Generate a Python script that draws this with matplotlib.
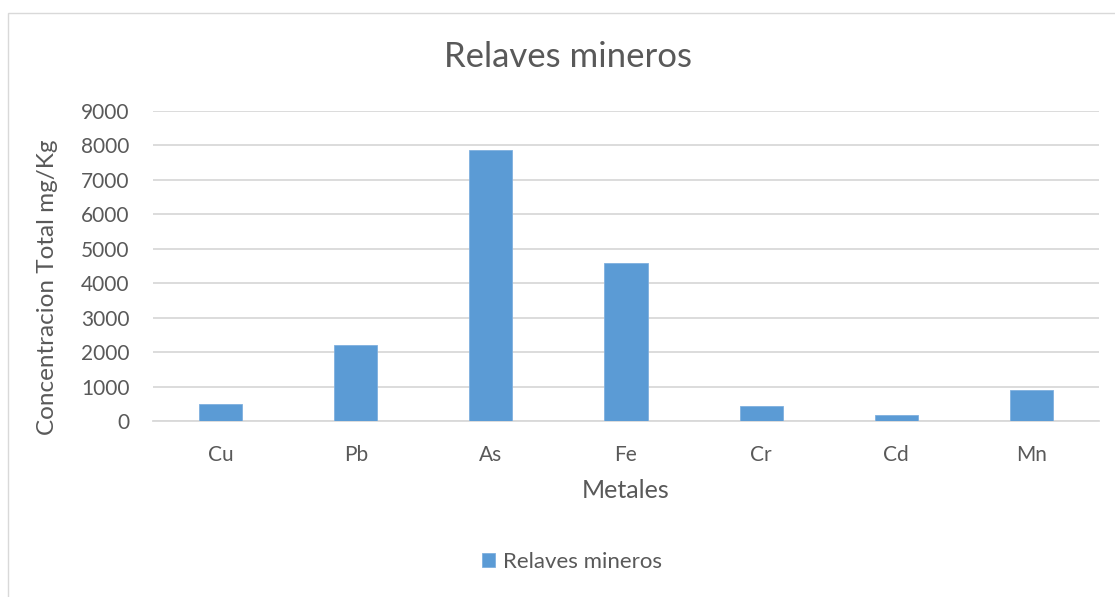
import matplotlib
matplotlib.use("Agg")
import matplotlib.pyplot as plt
from matplotlib.patches import Rectangle

categories = ["Cu", "Pb", "As", "Fe", "Cr", "Cd", "Mn"]
values = [485, 2200, 7880, 4590, 450, 185, 905]
yticks = [0, 1000, 2000, 3000, 4000, 5000, 6000, 7000, 8000, 9000]
series_name = "Relaves mineros"
title = "Relaves mineros"
xlabel = "Metales"
ylabel = "Concentracion Total mg/Kg"

W, H = 1115, 597
plt.rcParams['font.family'] = ['Lato', 'DejaVu Sans']
txt = "#595959"
fig = plt.figure(figsize=(W / 100, H / 100), dpi=100)
fig.patch.set_facecolor("white")

# chart border (left/top visible)
fig.patches.append(Rectangle((7.5 / W, -0.1), 1.2, (H - 12.5) / H + 0.1,
                             transform=fig.transFigure, fill=False,
                             edgecolor="#d9d9d9", linewidth=1.0))

ax = fig.add_axes([153 / W, (H - 421) / H, (1099 - 153) / W, (421 - 111) / H])
x = range(len(categories))
ax.bar(x, values, width=0.32, color="#5b9bd5", edgecolor="#7fb0df",
       linewidth=0.6, zorder=3, label=series_name)
ax.set_xlim(-0.5, len(categories) - 0.5)
ax.set_ylim(0, 9000)
ax.set_yticks(yticks)
ax.set_yticklabels([str(v) for v in yticks])
ax.set_xticks(list(x))
ax.set_xticklabels(categories)
ax.grid(axis="y", color="#d9d9d9", linewidth=1.3, zorder=0)
for s in ["top", "right", "left"]:
    ax.spines[s].set_visible(False)
ax.spines["bottom"].set_color("#d9d9d9")
ax.spines["bottom"].set_linewidth(1.3)
ax.tick_params(axis="both", length=0, colors=txt, labelsize=15)
ax.tick_params(axis="y", pad=17)
ax.tick_params(axis="x", pad=17)

fig.text(568 / W, 1 - 57 / H, title, ha="center", va="center",
         fontsize=25, color=txt)
fig.text(626 / W, 1 - 491 / H, xlabel, ha="center", va="center",
         fontsize=18, color=txt)
fig.text(48 / W, 1 - 287 / H, ylabel, ha="center", va="center",
         rotation=90, fontsize=17.5, color=txt)

handles, labels = ax.get_legend_handles_labels()
fig.legend(handles, labels, loc="center", bbox_to_anchor=(572 / W, 1 - 562 / H),
           frameon=False, fontsize=16, labelcolor=txt, handlelength=0.6,
           handleheight=0.6, handletextpad=0.35)

fig.savefig("out.png", dpi=100, facecolor="white")
